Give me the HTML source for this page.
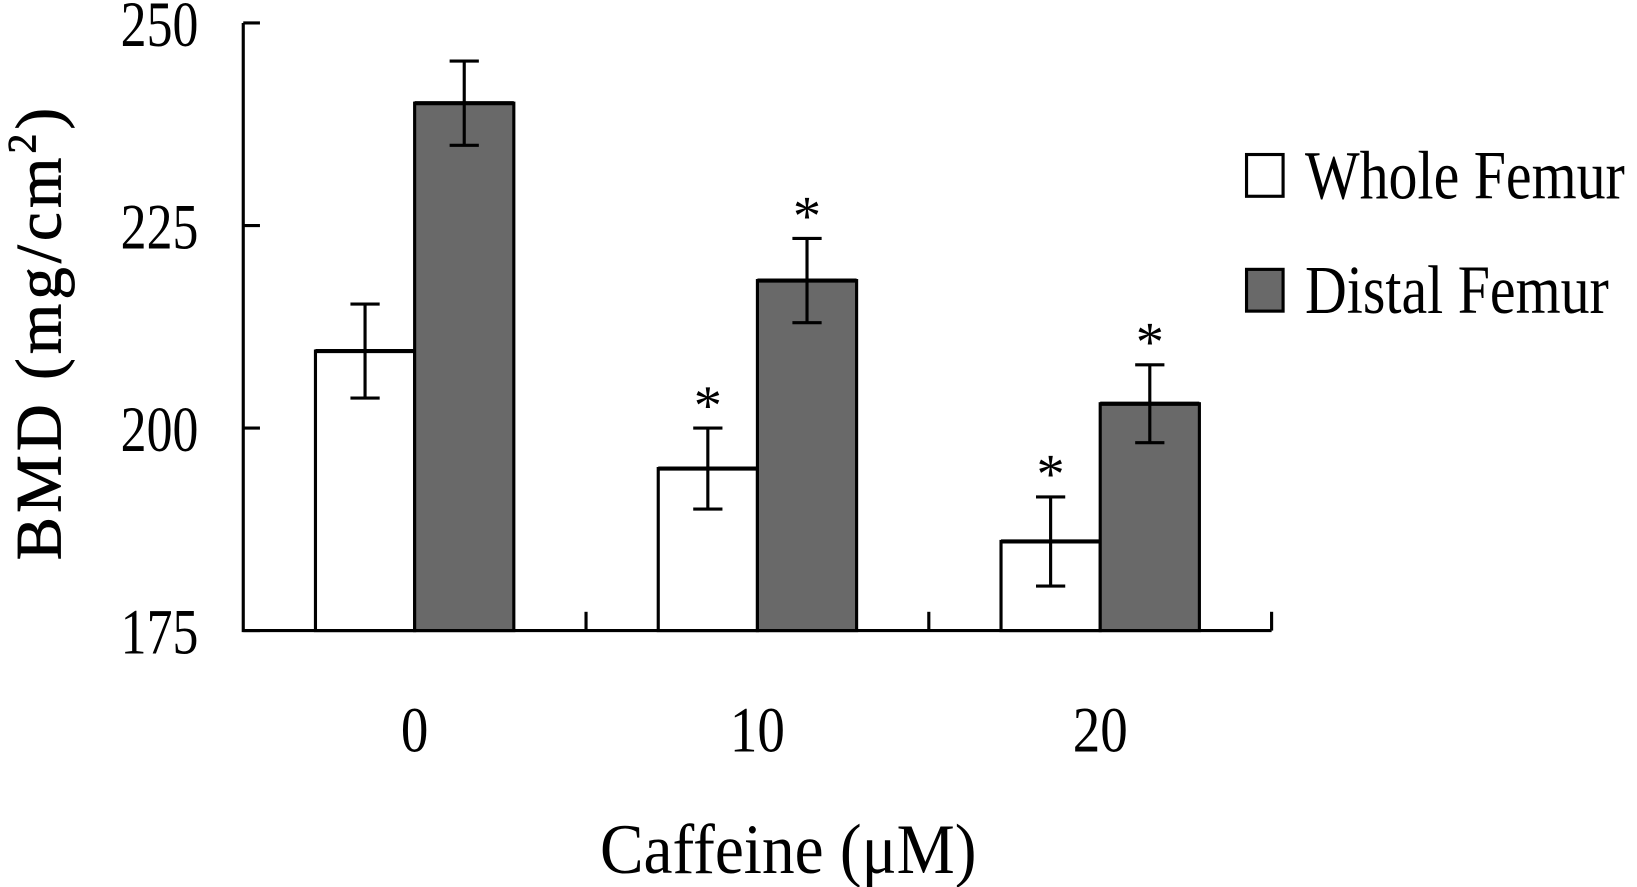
<!DOCTYPE html>
<html><head><meta charset="utf-8">
<style>html,body{margin:0;padding:0;background:#fff;}svg{display:block;}
text{font-family:"Liberation Serif",serif;fill:#000;}</style></head>
<body>
<svg id="chart" width="1637" height="887" viewBox="0 0 1568 849.6" preserveAspectRatio="none" xmlns="http://www.w3.org/2000/svg">
<g id="plot"></g>
<text transform="translate(58,318) rotate(-90)" text-anchor="middle" font-size="62" letter-spacing="4" stroke="#000" stroke-width="0.8">BMD (mg/cm<tspan font-size="38" dy="-24">2</tspan><tspan dy="24">)</tspan></text>
<text x="755" y="836" text-anchor="middle" font-size="68" transform="translate(755,0) scale(0.92,1) translate(-755,0)">Caffeine (μM)</text>
<g>
<rect x="1194" y="148" width="35" height="40" fill="#fff" stroke="#000" stroke-width="3"/>
<text x="1250" y="190" font-size="66" transform="translate(1250,0) scale(0.84,1) translate(-1250,0)">Whole Femur</text>
<rect x="1194" y="258" width="35" height="40" fill="#696969" stroke="#000" stroke-width="3"/>
<text x="1250" y="300" font-size="66" transform="translate(1250,0) scale(0.84,1) translate(-1250,0)">Distal Femur</text>
</g>
</svg>
<script>
const categories = ["0", "10", "20"];
const wholeValues = [209.5, 195.0, 186.0];
const wholeErrors = [5.8, 5.0, 5.5];
const distalValues = [240.1, 218.2, 203.0];
const distalErrors = [5.2, 5.2, 4.8];
const wholeSig = [false, true, true];
const distalSig = [false, true, true];
const yTicks = [175, 200, 225, 250];

const NS = "http://www.w3.org/2000/svg";
const plot = document.getElementById("plot");
const x0 = 233, x1 = 1218, yTop = 22, yBot = 604, yMin = 175, yMax = 250;
const y = v => yBot - (v - yMin) / (yMax - yMin) * (yBot - yTop);
const catW = (x1 - x0) / categories.length;
const cx = i => x0 + catW * (i + 0.5);
const barW = 95;
function mk(tag, attrs) { const e = document.createElementNS(NS, tag); for (const k in attrs) e.setAttribute(k, attrs[k]); plot.appendChild(e); return e; }

function drawBar(i, v, err, sig, left, fill, name) {
  const bx = left ? cx(i) - barW : cx(i);
  const r = mk("rect", {x: bx, y: y(v), width: barW, height: yBot - y(v), fill: fill, stroke: "#000", "stroke-width": 3});
  
  
  const top = mk("line", {x1: bx, x2: bx + barW, y1: y(v), y2: y(v), stroke: "#000", "stroke-width": 4});
  
  
  const mx = bx + barW / 2;
  const eb = mk("path", {d: `M${mx},${y(v + err)}V${y(v - err)}M${mx - 14},${y(v + err)}H${mx + 14}M${mx - 14},${y(v - err)}H${mx + 14}`, stroke: "#000", "stroke-width": 3, fill: "none"});
  
  
  if (sig) {
    const s = mk("text", {x: mx, y: y(v + err) - 4, "text-anchor": "middle", "font-size": 54});
    s.textContent = "*";
    
    
  }
}
categories.forEach((c, i) => {
  drawBar(i, wholeValues[i], wholeErrors[i], wholeSig[i], true, "#fff", "whole-femur");
  drawBar(i, distalValues[i], distalErrors[i], distalSig[i], false, "#696969", "distal-femur");
  const t = mk("text", {x: cx(i), y: 720, "text-anchor": "middle", "font-size": 62, transform: `translate(${cx(i)},0) scale(0.85,1) translate(${-cx(i)},0)`});
  t.textContent = c;
  
  
});
const ya = mk("path", {d: `M${x0},${yTop}V${yBot}H${x1}`, stroke: "#000", "stroke-width": 3, fill: "none"});


for (let k = 1; k <= categories.length; k++) {
  const tx = x0 + catW * k;
  const t = mk("line", {x1: tx, x2: tx, y1: yBot, y2: yBot - 18, stroke: "#000", "stroke-width": 3});
  
  
}
yTicks.forEach(v => {
  const t = mk("line", {x1: x0, x2: x0 + 16, y1: y(v), y2: y(v), stroke: "#000", "stroke-width": 3});
  
  
  const l = mk("text", {x: 190, y: y(v) + 22, "text-anchor": "end", "font-size": 62, transform: `translate(190,0) scale(0.8,1) translate(-190,0)`});
  l.textContent = v;
  
  
});
</script>
</body></html>
